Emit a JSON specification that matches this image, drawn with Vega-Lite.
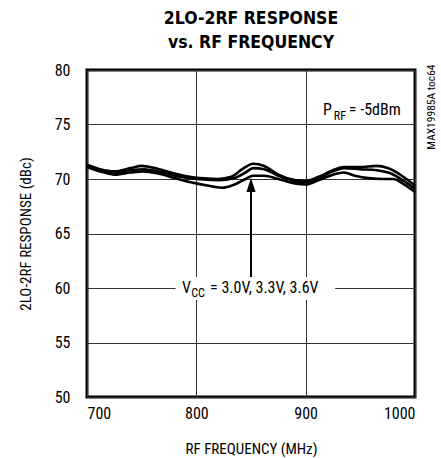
{
  "$schema": "https://vega.github.io/schema/vega-lite/v6.json",
  "autosize": "none",
  "width": 328,
  "height": 327,
  "padding": {"left": 87, "top": 70, "right": 26, "bottom": 61},
  "background": "white",
  "title": {
    "text": ["2LO-2RF RESPONSE", "vs. RF FREQUENCY"],
    "font": "DejaVu Sans Condensed",
    "fontSize": 17.5,
    "fontWeight": "bold",
    "lineHeight": 24,
    "color": "black",
    "anchor": "middle",
    "offset": 11
  },
  "config": {
    "view": {"stroke": "black", "strokeWidth": 3},
    "font": "Roboto Condensed",
    "axis": {
      "labelFont": "Roboto Condensed",
      "titleFont": "Roboto Condensed",
      "labelFontSize": 16,
      "titleFontSize": 15,
      "titleFontWeight": "normal",
      "labelColor": "black",
      "titleColor": "black",
      "gridColor": "#333333",
      "gridWidth": 1,
      "gridOpacity": 1,
      "domain": false,
      "ticks": false
    }
  },
  "datasets": {
    "curves": [
      {"series": "A", "freq": 700, "resp": 71.3}, {"series": "A", "freq": 712, "resp": 70.9}, {"series": "A", "freq": 725, "resp": 70.7}, {"series": "A", "freq": 740, "resp": 71.0}, {"series": "A", "freq": 750, "resp": 71.2}, {"series": "A", "freq": 762, "resp": 71.0}, {"series": "A", "freq": 780, "resp": 70.5}, {"series": "A", "freq": 800, "resp": 70.1}, {"series": "A", "freq": 820, "resp": 70.0}, {"series": "A", "freq": 832, "resp": 70.2}, {"series": "A", "freq": 842, "resp": 70.9}, {"series": "A", "freq": 852, "resp": 71.4}, {"series": "A", "freq": 862, "resp": 71.2}, {"series": "A", "freq": 875, "resp": 70.4}, {"series": "A", "freq": 890, "resp": 69.9}, {"series": "A", "freq": 900, "resp": 69.8}, {"series": "A", "freq": 912, "resp": 70.2}, {"series": "A", "freq": 925, "resp": 70.8}, {"series": "A", "freq": 935, "resp": 71.1}, {"series": "A", "freq": 950, "resp": 71.1}, {"series": "A", "freq": 965, "resp": 71.2}, {"series": "A", "freq": 975, "resp": 71.0}, {"series": "A", "freq": 988, "resp": 70.3}, {"series": "A", "freq": 1000, "resp": 69.4},
      {"series": "B", "freq": 700, "resp": 71.1}, {"series": "B", "freq": 712, "resp": 70.7}, {"series": "B", "freq": 725, "resp": 70.5}, {"series": "B", "freq": 740, "resp": 70.8}, {"series": "B", "freq": 752, "resp": 70.9}, {"series": "B", "freq": 765, "resp": 70.7}, {"series": "B", "freq": 780, "resp": 70.3}, {"series": "B", "freq": 800, "resp": 70.0}, {"series": "B", "freq": 820, "resp": 69.9}, {"series": "B", "freq": 835, "resp": 70.1}, {"series": "B", "freq": 845, "resp": 70.6}, {"series": "B", "freq": 852, "resp": 71.0}, {"series": "B", "freq": 862, "resp": 70.9}, {"series": "B", "freq": 875, "resp": 70.3}, {"series": "B", "freq": 890, "resp": 69.8}, {"series": "B", "freq": 900, "resp": 69.7}, {"series": "B", "freq": 912, "resp": 70.1}, {"series": "B", "freq": 925, "resp": 70.7}, {"series": "B", "freq": 935, "resp": 71.0}, {"series": "B", "freq": 950, "resp": 70.9}, {"series": "B", "freq": 965, "resp": 70.8}, {"series": "B", "freq": 978, "resp": 70.5}, {"series": "B", "freq": 990, "resp": 69.8}, {"series": "B", "freq": 1000, "resp": 69.1},
      {"series": "C", "freq": 700, "resp": 71.2}, {"series": "C", "freq": 712, "resp": 70.8}, {"series": "C", "freq": 725, "resp": 70.4}, {"series": "C", "freq": 740, "resp": 70.6}, {"series": "C", "freq": 752, "resp": 70.7}, {"series": "C", "freq": 765, "resp": 70.5}, {"series": "C", "freq": 780, "resp": 70.1}, {"series": "C", "freq": 795, "resp": 69.7}, {"series": "C", "freq": 810, "resp": 69.4}, {"series": "C", "freq": 823, "resp": 69.2}, {"series": "C", "freq": 835, "resp": 69.5}, {"series": "C", "freq": 845, "resp": 70.0}, {"series": "C", "freq": 852, "resp": 70.3}, {"series": "C", "freq": 862, "resp": 70.3}, {"series": "C", "freq": 875, "resp": 70.0}, {"series": "C", "freq": 890, "resp": 69.6}, {"series": "C", "freq": 900, "resp": 69.5}, {"series": "C", "freq": 912, "resp": 69.9}, {"series": "C", "freq": 925, "resp": 70.4}, {"series": "C", "freq": 935, "resp": 70.6}, {"series": "C", "freq": 945, "resp": 70.3}, {"series": "C", "freq": 955, "resp": 70.1}, {"series": "C", "freq": 970, "resp": 70.0}, {"series": "C", "freq": 980, "resp": 70.0}, {"series": "C", "freq": 990, "resp": 69.5}, {"series": "C", "freq": 1000, "resp": 68.8}
    ],
    "labelbox": [{"x1": 781, "x2": 927, "y1": 58.9, "y2": 61.0}],
    "arrow": [{"freq": 850, "low": 61.0, "high": 69.0, "tip": 69.45}],
    "notes": [
      {"freq": 915.9, "resp": 76.3, "txt": "P", "kind": "main"},
      {"freq": 925.8, "resp": 75.8, "txt": "RF", "kind": "sub"},
      {"freq": 939.5, "resp": 76.3, "txt": "= -5dBm", "kind": "main"},
      {"freq": 786.8, "resp": 60.0, "txt": "V", "kind": "main"},
      {"freq": 795.4, "resp": 59.5, "txt": "CC", "kind": "sub"},
      {"freq": 812.6, "resp": 60.0, "txt": "= 3.0V, 3.3V, 3.6V", "kind": "main"}
    ],
    "tag": [{"freq": 1016, "resp": 76.6, "txt": "MAX19985A toc64"}]
  },
  "layer": [
    {
      "data": {"name": "curves"},
      "mark": {"type": "line", "color": "black", "strokeWidth": 2.6, "interpolate": "monotone"},
      "encoding": {
        "x": {"field": "freq", "type": "quantitative", "scale": {"domain": [700, 1000], "nice": false},
          "axis": {"values": [700, 800, 900, 1000], "format": "d", "title": "RF FREQUENCY (MHz)", "labelPadding": 8, "titlePadding": 20, "grid": true}},
        "y": {"field": "resp", "type": "quantitative", "scale": {"domain": [50, 80], "nice": false},
          "axis": {"values": [50, 55, 60, 65, 70, 75, 80], "title": "2LO-2RF RESPONSE (dBc)", "labelPadding": 17, "titlePadding": 21, "grid": true}},
        "detail": {"field": "series", "type": "nominal"}
      }
    },
    {
      "data": {"name": "labelbox"},
      "mark": {"type": "rect", "fill": "white"},
      "encoding": {
        "x": {"field": "x1", "type": "quantitative"},
        "x2": {"field": "x2"},
        "y": {"field": "y1", "type": "quantitative"},
        "y2": {"field": "y2"}
      }
    },
    {
      "data": {"name": "arrow"},
      "mark": {"type": "rule", "color": "black", "strokeWidth": 2},
      "encoding": {
        "x": {"field": "freq", "type": "quantitative"},
        "y": {"field": "low", "type": "quantitative"},
        "y2": {"field": "high"}
      }
    },
    {
      "data": {"name": "arrow"},
      "mark": {"type": "point", "shape": "M0,-1L0.65,1L-0.65,1Z", "filled": true, "color": "black", "opacity": 1, "size": 196},
      "encoding": {
        "x": {"field": "freq", "type": "quantitative"},
        "y": {"field": "tip", "type": "quantitative"}
      }
    },
    {
      "data": {"name": "notes"},
      "transform": [{"filter": "datum.kind == 'main'"}],
      "mark": {"type": "text", "align": "left", "baseline": "middle", "fontSize": 16, "color": "black", "font": "Roboto Condensed"},
      "encoding": {
        "x": {"field": "freq", "type": "quantitative"},
        "y": {"field": "resp", "type": "quantitative"},
        "text": {"field": "txt"}
      }
    },
    {
      "data": {"name": "notes"},
      "transform": [{"filter": "datum.kind == 'sub'"}],
      "mark": {"type": "text", "align": "left", "baseline": "middle", "fontSize": 12, "color": "black", "font": "Roboto Condensed"},
      "encoding": {
        "x": {"field": "freq", "type": "quantitative"},
        "y": {"field": "resp", "type": "quantitative"},
        "text": {"field": "txt"}
      }
    },
    {
      "data": {"name": "tag"},
      "mark": {"type": "text", "align": "center", "baseline": "middle", "angle": 270, "fontSize": 11.5, "color": "black", "font": "Roboto Condensed"},
      "encoding": {
        "x": {"field": "freq", "type": "quantitative"},
        "y": {"field": "resp", "type": "quantitative"},
        "text": {"field": "txt"}
      }
    }
  ]
}
